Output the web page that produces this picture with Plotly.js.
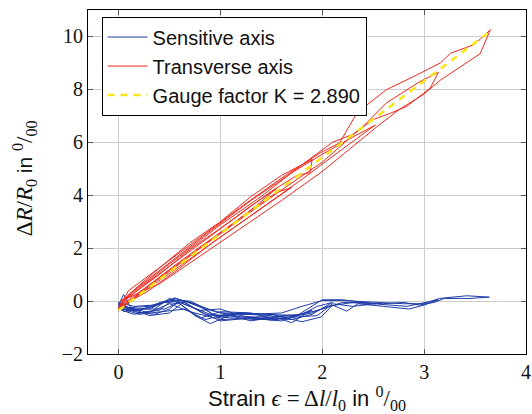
<!DOCTYPE html>
<html>
<head>
<meta charset="utf-8">
<script src="https://cdn.plot.ly/plotly-3.0.1.min.js"></script>
<style>html,body{margin:0;padding:0;background:#fff;}#chart{width:532px;height:414px;}</style>
</head>
<body>
<div id="chart"></div>
<script>
// Sensitive axis (blue): strain [per mille], dR/R0 [per mille], load/unload cycles
const sensitiveCycle1 = [[0,-0.15],[0.05,0.25],[0.12,-0.25],[0.3,-0.45],[0.5,0.1],[0.7,-0.2],[0.9,-0.5],[1.2,-0.6],[1.55,-0.7],
  [1.3,-0.45],[1.0,-0.4],[0.8,-0.65],[0.6,-0.1],[0.45,-0.05],[0.3,-0.25],[0.1,-0.35],[0,-0.2]];
const sensitiveCycle2 = [[0,-0.2],[0.15,-0.3],[0.3,-0.55],[0.5,-0.45],[0.65,0.0],[0.85,-0.3],[1.0,-0.7],[1.3,-0.65],[1.6,-0.75],[1.9,-0.35],
  [1.75,-0.55],[1.45,-0.5],[1.15,-0.45],[0.9,-0.85],[0.75,-0.55],[0.55,0.05],[0.35,-0.15],[0.15,-0.2],[0,-0.05]];
const sensitiveCycle3 = [[0,-0.05],[0.2,-0.45],[0.4,-0.35],[0.55,0.1],[0.75,-0.1],[0.95,-0.55],[1.25,-0.5],[1.5,-0.55],[1.7,-0.82],[1.85,-0.45],[2.0,-0.3],[2.2,-0.05],[2.52,-0.1],
  [2.3,-0.2],[2.1,-0.1],[1.95,-0.55],[1.75,-0.6],[1.5,-0.72],[1.2,-0.55],[1.0,-0.3],[0.8,-0.35],[0.6,-0.05],[0.45,-0.3],[0.25,-0.3],[0.05,-0.4],[0,-0.15]];
const sensitiveCycle4 = [[0,-0.15],[0.1,-0.3],[0.3,-0.3],[0.5,0.05],[0.7,0.0],[0.9,-0.35],[1.2,-0.6],[1.5,-0.6],[1.75,-0.55],[2.0,0.05],[2.2,0.05],[2.5,-0.1],[2.83,-0.2],[3.0,-0.05],[3.14,0.05],
  [3.0,-0.15],[2.85,-0.3],[2.6,-0.2],[2.35,-0.1],[2.24,-0.38],[2.1,-0.15],[1.99,-0.6],[1.8,-0.78],[1.5,-0.5],[1.2,-0.45],[0.95,-0.65],[0.7,-0.4],[0.5,-0.1],[0.35,-0.35],[0.15,-0.5],[0,-0.3]];
const sensitiveCycle5 = [[0,-0.3],[0.2,-0.35],[0.4,-0.1],[0.55,0.12],[0.8,-0.2],[1.0,-0.45],[1.3,-0.5],[1.6,-0.45],[1.8,-0.2],[2.0,0.02],[2.2,0.02],[2.5,-0.05],[2.8,-0.1],[3.0,-0.1],[3.15,0.1],[3.42,0.2],[3.64,0.15],
  [3.45,0.1],[3.2,0.1],[3.1,-0.05],[2.95,-0.15],[2.8,-0.05],[2.6,-0.1],[2.3,-0.05],[2.05,-0.2],[1.9,-0.45],[1.65,-0.62],[1.35,-0.7],[1.05,-0.62],[0.85,-0.5],[0.65,-0.05],[0.45,0.0],[0.3,-0.2],[0.1,-0.25],[0,-0.1]];
const sensitiveCycle6 = [[0,-0.1],[0.15,-0.4],[0.35,-0.5],[0.5,-0.3],[0.6,0.05],[0.8,-0.4],[1.0,-0.75],[1.4,-0.6],[1.7,-0.7],[1.9,-0.5],[2.1,-0.05],
  [1.95,-0.2],[1.8,-0.5],[1.6,-0.55],[1.3,-0.75],[1.05,-0.5],[0.85,-0.7],[0.65,-0.3],[0.45,-0.4],[0.2,-0.5],[0,-0.25]];

// Transverse axis (red)
const transverseCycle1 = [[0,-0.38],[0.25,0.45],[0.5,1.2],[0.8,2.05],[1.1,2.85],[1.35,3.6],[1.55,4.25],
  [1.3,3.6],[1.0,2.75],[0.7,1.95],[0.4,1.0],[0.15,0.3],[0.02,-0.1]];
const transverseCycle2 = [[0.02,-0.1],[0.3,0.75],[0.6,1.6],[0.9,2.45],[1.2,3.3],[1.5,4.15],[1.75,4.75],[1.88,4.85],[1.9,5.35],
  [1.6,4.75],[1.3,3.95],[1.0,3.0],[0.7,2.2],[0.4,1.25],[0.1,0.25],[0,-0.3]];
const transverseCycle3 = [[0,-0.3],[0.3,0.5],[0.7,1.6],[1.0,2.4],[1.4,3.5],[1.8,4.6],[2.2,5.75],[2.52,6.65],
  [2.3,6.2],[2.0,5.55],[1.7,4.85],[1.3,3.8],[0.9,2.65],[0.5,1.45],[0.15,0.4],[0.01,-0.2]];
const transverseCycle4 = [[0.01,-0.2],[0.4,0.9],[0.8,2.0],[1.2,3.1],[1.6,4.2],[2.0,5.25],[2.4,6.6],[2.63,7.49],[2.96,8.3],[3.14,8.64],
  [3.06,8.05],[2.83,7.36],[2.67,7.1],[2.5,6.86],[2.3,6.3],[2.1,6.0],[1.8,5.15],[1.4,3.95],[1.0,2.88],[0.6,1.7],[0.25,0.65],[0.02,0.0]];
const transverseCycle5 = [[0.02,0.0],[0.4,0.65],[0.8,1.7],[1.2,2.75],[1.6,3.8],[2.0,4.9],[2.3,5.85],[2.54,6.6],[2.76,7.25],[2.99,7.8],[3.16,8.35],[3.36,8.85],[3.55,9.35],[3.65,10.25],
  [3.49,9.69],[3.26,9.37],[3.16,9.0],[2.9,8.49],[2.63,7.99],[2.5,7.6],[2.34,7.11],[2.17,5.98],[1.98,5.6],[1.6,4.65],[1.2,3.55],[0.8,2.4],[0.4,1.25],[0.1,0.4],[0,-0.25]];
const transverseCycle6 = [[0,-0.25],[0.3,0.4],[0.6,1.25],[0.9,2.15],[1.2,2.95],[1.5,3.75],[1.7,4.3],[1.55,4.1],[1.25,3.3],[0.95,2.45],[0.65,1.55],[0.35,0.7],[0.05,-0.15]];

// Gauge factor fit line
const gaugeStrain = [0, 3.62];
const gaugeDR = [-0.35, 10.11];

// Axis tick labels
const xTicks = [0, 1, 2, 3, 4];
const yTicks = [-2, 0, 2, 4, 6, 8, 10];
const yTickText = ['−2', '0', '2', '4', '6', '8', '10'];

const sensitive = [].concat(sensitiveCycle1, sensitiveCycle2, sensitiveCycle3, sensitiveCycle4, sensitiveCycle5, sensitiveCycle6);
const transverse = [].concat(transverseCycle1, transverseCycle2, transverseCycle3, transverseCycle6, transverseCycle4, transverseCycle5);

const serif = "'Liberation Serif', 'DejaVu Serif', serif";
const sans = "'Liberation Sans', Arial, sans-serif";
const m = s => '<span style="font-family:Liberation Serif;font-size:23px">' + s + '</span>';
const permille = m('<sup>0</sup>/<sub>00</sub>');

const traces = [
  {x: sensitive.map(p => p[0]), y: sensitive.map(p => p[1]), type: 'scatter', mode: 'lines',
   name: 'Sensitive axis', line: {color: 'rgb(30,60,168)', width: 1}},
  {x: transverse.map(p => p[0]), y: transverse.map(p => p[1]), type: 'scatter', mode: 'lines',
   name: 'Transverse axis', line: {color: 'rgb(242,40,30)', width: 1}},
  {x: gaugeStrain, y: gaugeDR, type: 'scatter', mode: 'lines',
   name: 'Gauge factor K = 2.890', line: {color: 'rgb(250,230,20)', width: 2.5, dash: '7px,6px'}}
];

const axisCommon = {
  showline: true, linecolor: '#000', linewidth: 1, mirror: 'ticks',
  ticks: 'inside', ticklen: 5, tickcolor: '#555', tickwidth: 1,
  showgrid: true, gridcolor: '#cccccc', gridwidth: 1, zeroline: false,
  tickfont: {family: serif, size: 20, color: '#111'}
};

const layout = {
  width: 532, height: 414,
  margin: {l: 88, r: 6, t: 10, b: 60},
  paper_bgcolor: '#fff', plot_bgcolor: '#fff',
  showlegend: true,
  font: {family: sans, color: '#111'},
  xaxis: Object.assign({}, axisCommon, {
    range: [-0.3, 4], tickvals: xTicks,
    title: {text: 'Strain ' + m('<i>ϵ</i> = Δ<i>l</i>/<i>l</i><sub>0</sub>') + ' in ' + permille,
            font: {family: sans, size: 22, color: '#111'}, standoff: 11}
  }),
  yaxis: Object.assign({}, axisCommon, {
    range: [-2, 11], tickvals: yTicks, ticktext: yTickText
  }),
  annotations: [{
    text: m('Δ<i>R</i>/<i>R</i><sub>0</sub>') + ' in ' + permille,
    xref: 'paper', yref: 'paper', x: -0.145, y: 0.512, xanchor: 'center', yanchor: 'middle',
    textangle: -90, showarrow: false, font: {family: sans, size: 21, color: '#111'}
  }],
  legend: {x: 0.031, y: 0.981, xanchor: 'left', yanchor: 'top',
           bgcolor: '#fff', bordercolor: '#000', borderwidth: 1, itemwidth: 40,
           font: {family: sans, size: 20, color: '#111'}, tracegroupgap: 0}
};

Plotly.newPlot('chart', traces, layout, {displayModeBar: false, staticPlot: true});
</script>
</body>
</html>
